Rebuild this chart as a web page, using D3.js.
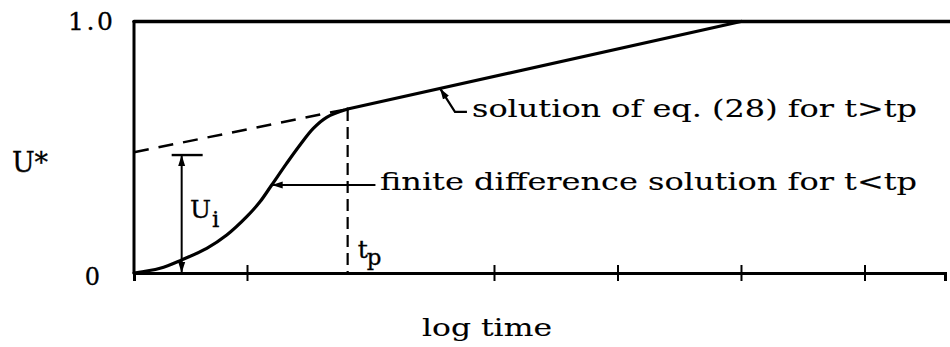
<!DOCTYPE html>
<html>
<head>
<meta charset="utf-8">
<script src="https://cdn.jsdelivr.net/npm/d3@7"></script>
<style>
  body { margin: 0; background: #fff; }
  text { font-family: "DejaVu Serif", serif; fill: #000; stroke: #000; stroke-width: 0.3; }
  text.note { stroke-width: 0.1; }
</style>
</head>
<body>
<svg id="chart" width="950" height="347"></svg>
<script>
// Log-time axis tick positions (unlabelled)
const xTicks = [1, 3, 4, 5, 6];
// U* axis labels
const yTickValues = [0, 1];
const yTickLabels = ["0", "1.0"];

// Finite difference solution, t < tp
const fdT = [0.085, 0.296, 0.471, 0.674, 0.836, 0.998, 1.105, 1.2, 1.321, 1.429, 1.537, 1.645, 1.815];
const fdU = [0, 0.019, 0.052, 0.098, 0.151, 0.224, 0.283, 0.35, 0.436, 0.509, 0.575, 0.619, 0.652];
// Solution of eq. (28), t > tp
const eqT = [1.815, 5.0];
const eqU = [0.652, 1.0];
// Back-extrapolation of the eq. (28) line to the U* axis
const extT = [0.085, 1.815];
const extU = [0.48, 0.652];
// Characteristic values
const tp = 1.815;
const uiT = 0.471;
const uiU = 0.469;

const svg = d3.select("#chart");
const x = d3.scaleLinear().domain([0.085, 6.652]).range([134, 945]);
const y = d3.scaleLinear().domain([0, 1]).range([273, 21.5]);

// Arrowhead
const defs = svg.append("defs");
defs.append("marker")
  .attr("id", "head")
  .attr("markerUnits", "userSpaceOnUse")
  .attr("markerWidth", 12).attr("markerHeight", 8)
  .attr("refX", 11).attr("refY", 4)
  .attr("orient", "auto-start-reverse")
  .append("path").attr("d", "M0,0.5 L11,4 L0,7.5 Z").attr("fill", "#000");

// Top reference line U* = 1
svg.append("line")
  .attr("x1", x(0.085)).attr("x2", 950)
  .attr("y1", y(1)).attr("y2", y(1))
  .attr("stroke", "#000").attr("stroke-width", 3.5).attr("stroke-linecap", "round");

// Left axis
svg.append("line")
  .attr("x1", x(0.085)).attr("x2", x(0.085))
  .attr("y1", y(1)).attr("y2", y(0))
  .attr("stroke", "#000").attr("stroke-width", 3).attr("stroke-linecap", "round");

// Bottom axis with crossing ticks
const xAxis = svg.append("g")
  .attr("transform", `translate(0,${y(0)})`)
  .call(d3.axisBottom(x).tickValues(xTicks).tickFormat("").tickSizeOuter(0).tickSize(8));
xAxis.select(".domain").attr("stroke", "#000").attr("stroke-width", 3);
xAxis.selectAll(".tick line").attr("y1", -8).attr("y2", 8).attr("stroke", "#000").attr("stroke-width", 2);

// Y labels
svg.append("text").attr("x", 113).attr("y", y(yTickValues[1]) + 8.5)
  .attr("text-anchor", "end").attr("font-size", 25)
  .attr("textLength", 45).attr("lengthAdjust", "spacing").text(yTickLabels[1]);
svg.append("text").attr("x", 100).attr("y", y(yTickValues[0]) + 12)
  .attr("text-anchor", "end").attr("font-size", 24).text(yTickLabels[0]);

svg.append("text").attr("x", 12).attr("y", 172).attr("font-size", 27)
  .attr("textLength", 36).attr("lengthAdjust", "spacing").text("U*");
svg.append("text").attr("class", "note").attr("x", 422).attr("y", 336).attr("font-size", 25)
  .attr("textLength", 130).attr("lengthAdjust", "spacingAndGlyphs").text("log time");

// Extrapolated dashed line
svg.append("path")
  .datum(extT.map((t, i) => [t, extU[i]]))
  .attr("d", d3.line().x(d => x(d[0])).y(d => y(d[1])))
  .attr("fill", "none").attr("stroke", "#000").attr("stroke-width", 2.5)
  .attr("stroke-dasharray", "15,10");

// tp dashed vertical
svg.append("line")
  .attr("x1", x(tp)).attr("x2", x(tp))
  .attr("y1", y(eqU[0])).attr("y2", y(0))
  .attr("stroke", "#000").attr("stroke-width", 2.2)
  .attr("stroke-dasharray", "12,6");

// Finite difference curve
svg.append("path")
  .datum(fdT.map((t, i) => [t, fdU[i]]))
  .attr("d", d3.line().x(d => x(d[0])).y(d => y(d[1])).curve(d3.curveCatmullRom.alpha(0.5)))
  .attr("fill", "none").attr("stroke", "#000").attr("stroke-width", 3.2)
  .attr("stroke-linecap", "round");

// Eq. (28) straight line
svg.append("path")
  .datum(eqT.map((t, i) => [t, eqU[i]]))
  .attr("d", d3.line().x(d => x(d[0])).y(d => y(d[1])))
  .attr("fill", "none").attr("stroke", "#000").attr("stroke-width", 3.2)
  .attr("stroke-linecap", "round");

// Ui double arrow with top bar
svg.append("line")
  .attr("x1", x(uiT)).attr("x2", x(uiT))
  .attr("y1", y(0)).attr("y2", y(uiU))
  .attr("stroke", "#000").attr("stroke-width", 2)
  .attr("marker-start", "url(#head)").attr("marker-end", "url(#head)");
svg.append("line")
  .attr("x1", x(0.39)).attr("x2", x(0.641))
  .attr("y1", y(uiU)).attr("y2", y(uiU))
  .attr("stroke", "#000").attr("stroke-width", 2.4);
const ui = svg.append("text").attr("x", 190).attr("y", 218).attr("font-size", 25);
ui.append("tspan").text("U");
ui.append("tspan").attr("x", 212).attr("y", 227).attr("font-size", 23).text("i");

// tp label
const tpl = svg.append("text").attr("x", x(tp) + 10).attr("y", 258).attr("font-size", 25);
tpl.append("tspan").text("t");
tpl.append("tspan").attr("x", x(tp) + 19).attr("y", 265).attr("font-size", 23).text("p");

// Leader for the finite difference curve
const fdLeadT = 1.2, fdLeadU = 0.35;
svg.append("line")
  .attr("x1", x(2.04)).attr("x2", x(fdLeadT))
  .attr("y1", y(fdLeadU)).attr("y2", y(fdLeadU))
  .attr("stroke", "#000").attr("stroke-width", 2)
  .attr("marker-end", "url(#head)");
svg.append("text").attr("class", "note").attr("x", 380).attr("y", 190).attr("font-size", 24)
  .attr("textLength", 537).attr("lengthAdjust", "spacingAndGlyphs")
  .text("finite difference solution for t<tp");

// Leader for the eq. (28) line
const eqLeadT = 2.563;
const eqLeadU = eqU[0] + (eqU[1] - eqU[0]) * (eqLeadT - eqT[0]) / (eqT[1] - eqT[0]);
svg.append("path")
  .datum([[2.781, 0.641], [2.684, 0.641], [eqLeadT, eqLeadU]])
  .attr("d", d3.line().x(d => x(d[0])).y(d => y(d[1])))
  .attr("fill", "none").attr("stroke", "#000").attr("stroke-width", 2.2)
  .attr("marker-end", "url(#head)");
svg.append("text").attr("class", "note").attr("x", 472).attr("y", 117).attr("font-size", 24)
  .attr("textLength", 445).attr("lengthAdjust", "spacingAndGlyphs")
  .text("solution of eq. (28) for t>tp");
</script>
</body>
</html>
